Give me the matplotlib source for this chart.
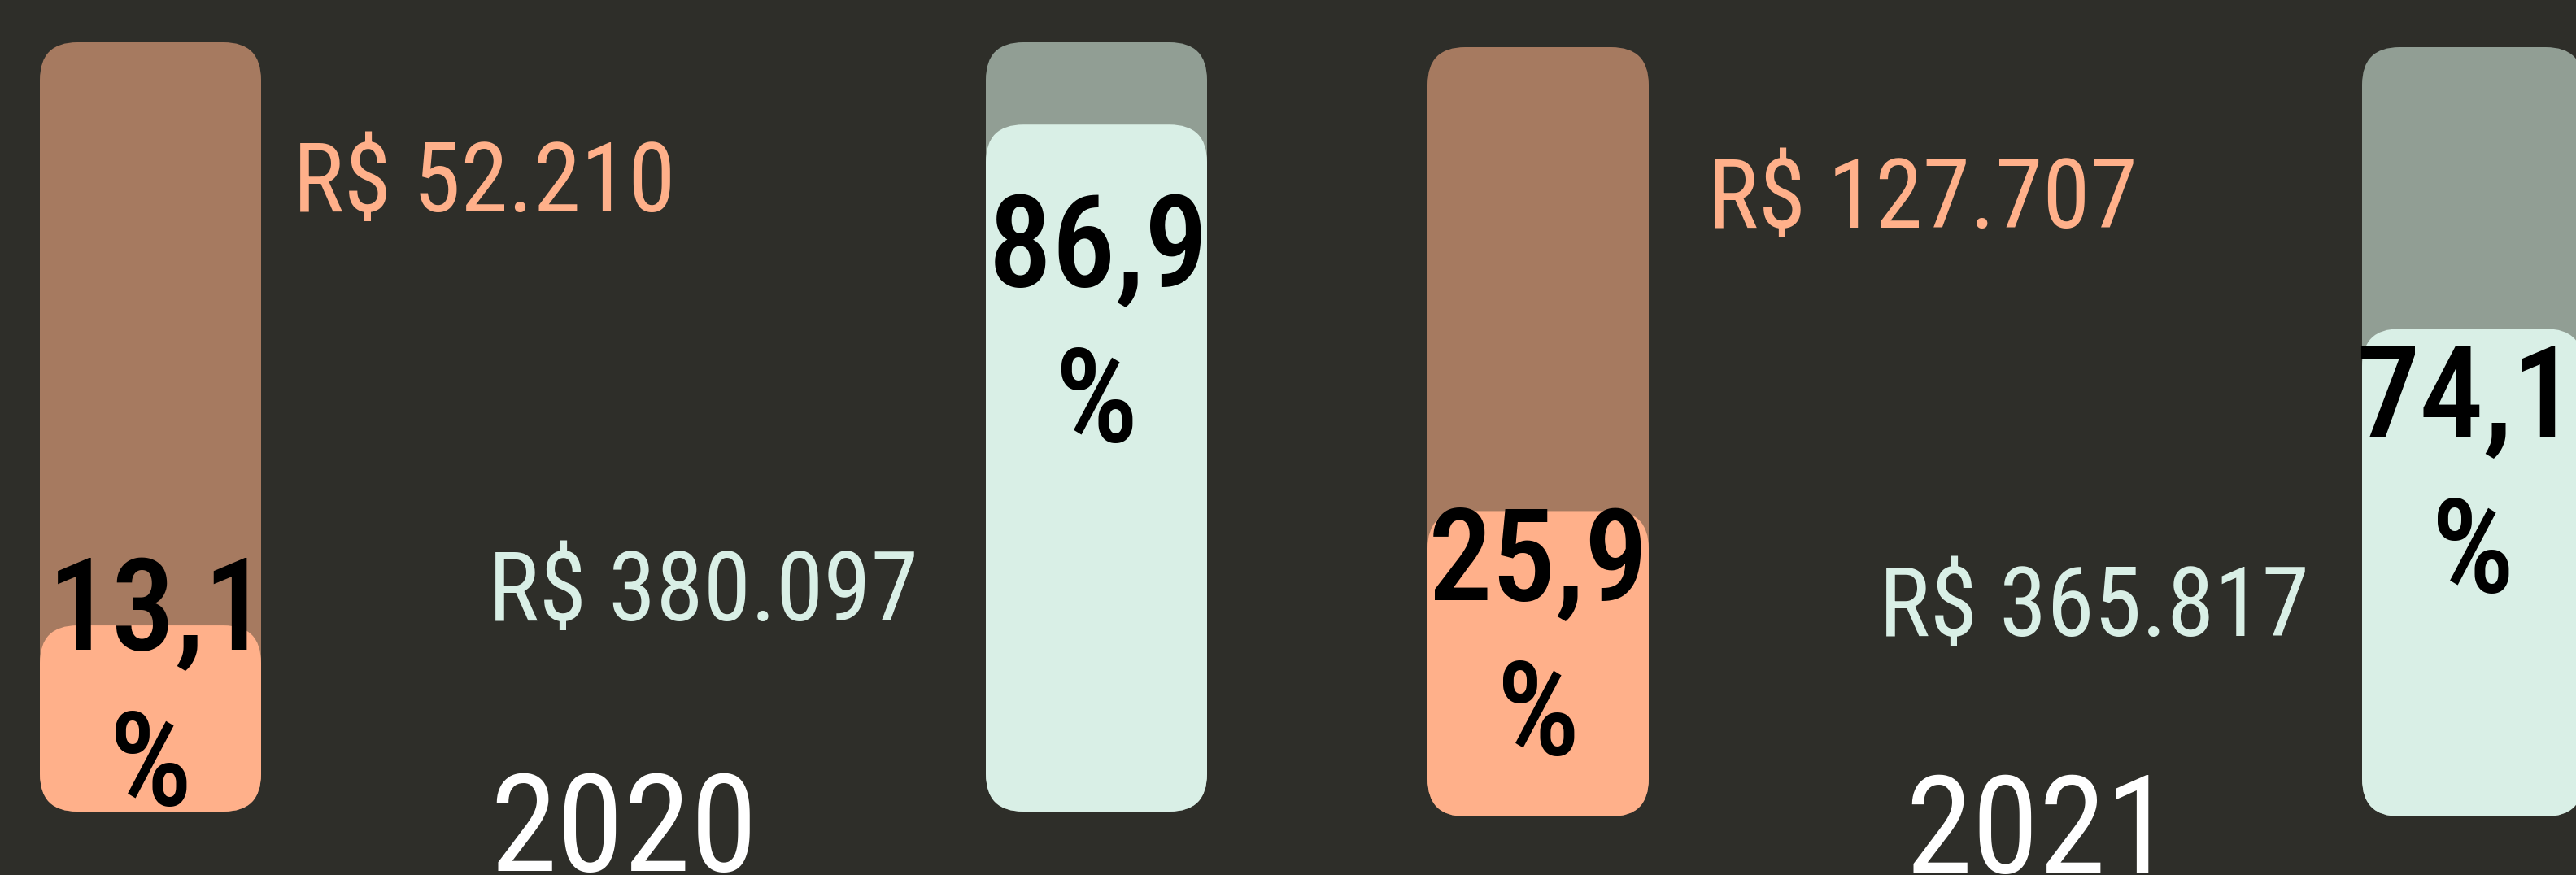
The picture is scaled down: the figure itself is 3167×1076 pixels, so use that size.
import matplotlib
matplotlib.use("Agg")
import matplotlib.pyplot as plt
from matplotlib.patches import FancyBboxPatch
from matplotlib import font_manager

# dados
years = ["2020", "2021"]
share_a = [13.1, 25.9]          # % parte laranja
share_b = [86.9, 74.1]          # % parte verde
value_a = [52210, 127707]       # R$
value_b = [380097, 365817]      # R$
fill_a = [24.2, 39.7]           # nível preenchido da barra laranja (%)
fill_b = [89.3, 63.4]           # nível preenchido da barra verde (%)

# cores
bg = "#2e2e29"
orange_dark = "#a67a60"
orange = "#ffb08a"
green_dark = "#919e94"
mint = "#d9efe6"

W, H = 3167, 1076

# fonte condensada, se houver
names = {f.name for f in font_manager.fontManager.ttflist}
cands = ["Roboto Condensed", "Liberation Sans Narrow", "DejaVu Sans Condensed",
         "Open Sans Condensed", "Roboto"]
fam = [c for c in cands if c in names] or ["DejaVu Sans"]
plt.rcParams["font.family"] = fam[:1] + ["DejaVu Sans"]

fig = plt.figure(figsize=(W / 100, H / 100), dpi=100, facecolor=bg)
ax = fig.add_axes([0, 0, 1, 1])
ax.set_xlim(0, W)
ax.set_ylim(H, 0)
ax.axis("off")

# layout (px)
bar_w = 272
bar_h = 946
radius = 46
bar_left = {"a": [49, 1755], "b": [1212, 2904]}
bar_top = [52, 58]
num_base = {"a": [799, 737], "b": [352, 537]}
num_dx = {"a": [10, 0], "b": [2, -8]}
pct_gap = 191
lbl_pos = {"a": [(360, 260), (2099, 280)], "b": [(600, 763), (2310, 782)]}
year_pos = [(602, 1071), (2342, 1073)]


def fmt_money(v):
    return "R$ " + f"{v:,}".replace(",", ".")


def fmt_pct(p):
    return f"{p:.1f}".replace(".", ",")


def rbox(x, y, w, h, color):
    p = FancyBboxPatch((x, y), w, h, boxstyle=f"round,pad=0,rounding_size={radius}",
                       facecolor=color, edgecolor="none", zorder=2)
    ax.add_patch(p)


for i, yr in enumerate(years):
    top = bar_top[i]
    bottom = top + bar_h
    for key, dark, light, shares, fills, vals, lcol in [
        ("a", orange_dark, orange, share_a, fill_a, value_a, orange),
        ("b", green_dark, mint, share_b, fill_b, value_b, mint),
    ]:
        x0 = bar_left[key][i]
        rbox(x0, top, bar_w, bar_h, dark)
        fh = fills[i] / 100 * bar_h
        rbox(x0, bottom - fh, bar_w, fh, light)

        cx = x0 + bar_w / 2
        yb = num_base[key][i]
        ax.text(cx + num_dx[key][i], yb, fmt_pct(shares[i]), ha="center", va="baseline",
                fontsize=113, fontweight="medium", color="black", zorder=3)
        ax.text(cx, yb + pct_gap, "%", ha="center", va="baseline",
                fontsize=116, fontweight="medium", color="black", zorder=3)

        lx, ly = lbl_pos[key][i]
        ax.text(lx, ly, fmt_money(vals[i]), ha="left", va="baseline",
                fontsize=85, color=lcol, zorder=3)

    yx, yy = year_pos[i]
    ax.text(yx, yy, yr, ha="left", va="baseline", fontsize=120,
            color="white", zorder=3)

fig.savefig("out.png", dpi=100, facecolor=bg)
